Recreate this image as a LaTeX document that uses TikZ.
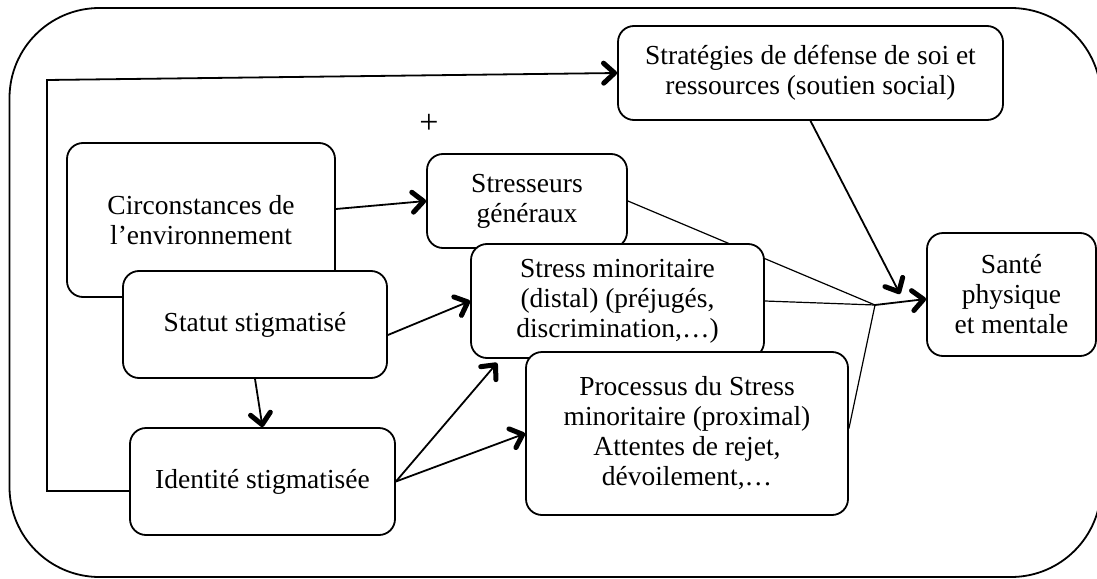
\documentclass[tikz,border=0pt]{standalone}
\usepackage{fontspec}
\setmainfont{Liberation Serif}
\usetikzlibrary{arrows.meta}
\begin{document}
\begin{tikzpicture}[x=1pt,y=-1pt,
  box/.style={draw, line width=1.8pt, rounded corners=16pt, fill=white, align=center,
    inner sep=0pt, font=\fontsize{27.5}{30}\selectfont},
  arr/.style={line width=1.8pt, -{Straight Barb[length=11pt,width=20pt,line width'=5pt,round]}},
  thinline/.style={line width=1.2pt}]
\useasboundingbox (0,0) rectangle (1097,578);
\draw[line width=1.8pt, rounded corners=90pt] (9.5,8) rectangle (1101,577);

\node[font=\fontsize{34}{36}\selectfont] (plus) at (429,124) {+};

\node[box, minimum width=385pt, minimum height=94pt] (strat) at (810.5,73)
  {Stratégies de défense de soi et\\ressources (soutien social)};
\node[box, minimum width=268pt, minimum height=154pt] (circ) at (201,220)
  {Circonstances de\\l’environnement};
\node[box, minimum width=264pt, minimum height=107pt] (statut) at (255,324.5)
  {Statut stigmatisé};
\node[box, minimum width=200pt, minimum height=94pt] (stres) at (527,201)
  {Stresseurs\\généraux};

\coordinate (J) at (875,305);
\coordinate (tipS) at (900,294);
\draw[thinline] (stres.east) -- (J);

\node[box, minimum width=293pt, minimum height=114pt] (stmin) at (617.5,301)
  {Stress minoritaire\\(distal) (préjugés,\\discrimination,…)};
\node[box, minimum width=322pt, minimum height=163pt] (proc) at (687,433.5)
  {Processus du Stress\\minoritaire (proximal)\\Attentes de rejet,\\dévoilement,…};
\node[box, minimum width=265pt, minimum height=107pt] (ident) at (262.5,481.5)
  {Identité stigmatisée};
\node[box, minimum width=169pt, minimum height=123pt] (sante) at (1011.5,294.5)
  {Santé\\physique\\et mentale};

\coordinate (fb1) at (47,491);
\coordinate (fb2) at (47,80);
\draw[arr] ([yshift=-9.5pt]ident.west) -- (fb1) -- (fb2) -- (strat.west);

\draw[arr] ([yshift=11pt]circ.east) -- (stres.west);
\draw[arr] ([yshift=-10.5pt]statut.east) -- (stmin.west);
\draw[arr] (statut.south) -- (ident.north);
\draw[arr] (ident.east) -- ([xshift=27pt,yshift=-4pt]stmin.south west);
\draw[arr] (ident.east) -- (proc.west);
\draw[arr] (strat.south) -- (tipS);

\draw[thinline] (stmin.east) -- (J);
\draw[thinline] ([yshift=5pt]proc.east) -- (J);
\draw[arr] (J) -- ([yshift=-4.5pt]sante.west);
\end{tikzpicture}
\end{document}
